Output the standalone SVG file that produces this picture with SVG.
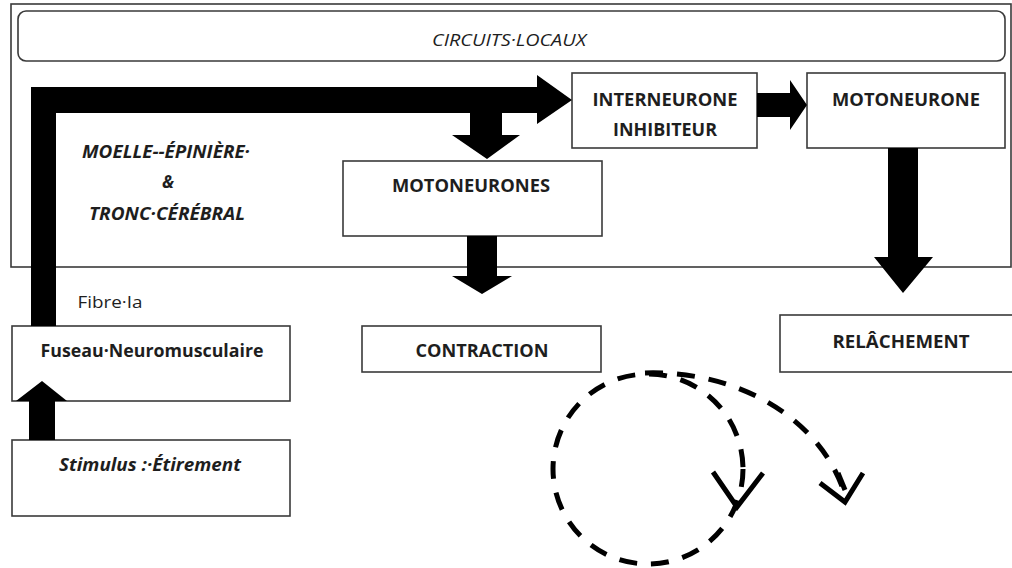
<svg xmlns="http://www.w3.org/2000/svg" width="1012" height="568" viewBox="0 0 1012 568">
<style>
.box{fill:#fff;stroke:#3a3a3a;stroke-width:1.6}
.frame{fill:none;stroke:#3a3a3a;stroke-width:1.6}
.lbl{font-family:"Open Sans","Liberation Sans",sans-serif;font-weight:bold;font-size:17px;fill:#1e1e1e;text-anchor:middle}
.it{font-style:italic}
.reg{font-weight:normal}
.arrow{fill:#000}
.dash{fill:none;stroke:#000;stroke-width:5;stroke-dasharray:18 14}
.vee{fill:none;stroke:#000;stroke-width:5;stroke-linejoin:miter}
</style>
<rect width="1012" height="568" fill="#fff"/>
<g id="moelle-region">
<rect class="frame" x="11" y="4" width="1000" height="263"/>
<text class="lbl it" x="166" y="158" textLength="168" lengthAdjust="spacingAndGlyphs">MOELLE--ÉPINIÈRE·</text>
<text class="lbl it" x="168" y="188">&amp;</text>
<text class="lbl it" x="167" y="220" textLength="156" lengthAdjust="spacingAndGlyphs">TRONC·CÉRÉBRAL</text>
</g>
<g id="circuits-locaux">
<rect class="box" x="18" y="11" width="987" height="50" rx="8"/>
<text class="lbl it reg" x="509" y="46" fill="#333" textLength="154" lengthAdjust="spacingAndGlyphs">CIRCUITS·LOCAUX</text>
</g>
<g id="interneurone">
<rect class="box" x="572" y="73" width="185" height="75"/>
<text class="lbl" x="665" y="106" textLength="145" lengthAdjust="spacingAndGlyphs">INTERNEURONE</text>
<text class="lbl" x="665" y="136" textLength="104" lengthAdjust="spacingAndGlyphs">INHIBITEUR</text>
</g>
<g id="motoneurone">
<rect class="box" x="807" y="73" width="198" height="75"/>
<text class="lbl" x="906" y="106" textLength="148" lengthAdjust="spacingAndGlyphs">MOTONEURONE</text>
</g>
<g id="motoneurones">
<rect class="box" x="343" y="161" width="259" height="75"/>
<text class="lbl" x="471" y="192" textLength="158" lengthAdjust="spacingAndGlyphs">MOTONEURONES</text>
</g>
<g id="contraction">
<rect class="box" x="362" y="326" width="239" height="46"/>
<text class="lbl" x="482" y="357" textLength="133" lengthAdjust="spacingAndGlyphs">CONTRACTION</text>
</g>
<g id="relachement">
<rect class="box" x="780" y="315" width="240" height="57"/>
<text class="lbl" x="901" y="348" textLength="137" lengthAdjust="spacingAndGlyphs">RELÂCHEMENT</text>
</g>
<g id="fuseau">
<rect class="box" x="12" y="326" width="278" height="75"/>
<text class="lbl" x="152" y="357" textLength="223" lengthAdjust="spacingAndGlyphs">Fuseau·Neuromusculaire</text>
</g>
<g id="stimulus">
<rect class="box" x="12" y="440" width="278" height="76"/>
<text class="lbl it" x="150" y="471" textLength="182" lengthAdjust="spacingAndGlyphs">Stimulus :·Étirement</text>
</g>
<g id="fibre-label">
<text class="lbl reg" x="110" y="308" fill="#333" textLength="65" lengthAdjust="spacingAndGlyphs">Fibre·Ia</text>
</g>
<g id="connectors">
<polygon class="arrow" points="31,326 31,87 537,87 537,75 572,100 537,124 537,113 56,113 56,326"/>
<polygon class="arrow" points="470,113 502,113 502,135 520,135 487,159 452,135 470,135"/>
<polygon class="arrow" points="757,93 790,93 790,80 807,105 790,130 790,117 757,117"/>
<polygon class="arrow" points="467,236 497,236 497,276 512,276 482,294 452,276 467,276"/>
<polygon class="arrow" points="888,148 918,148 918,257 933,257 903,293 874,257 888,257"/>
<polygon class="arrow" points="29,440 29,401 16,401 42,381 67,401 55,401 55,440"/>
<circle class="dash" cx="648" cy="469" r="95"/>
<path class="dash" d="M645,373 C740,370 822,420 845,495"/>
<polyline class="vee" points="713,472 737,507 763,473"/>
<polyline class="vee" points="820,483 845,502 863,473"/>
<line class="vee" x1="838" y1="473" x2="845" y2="490"/>
</g>
</svg>
